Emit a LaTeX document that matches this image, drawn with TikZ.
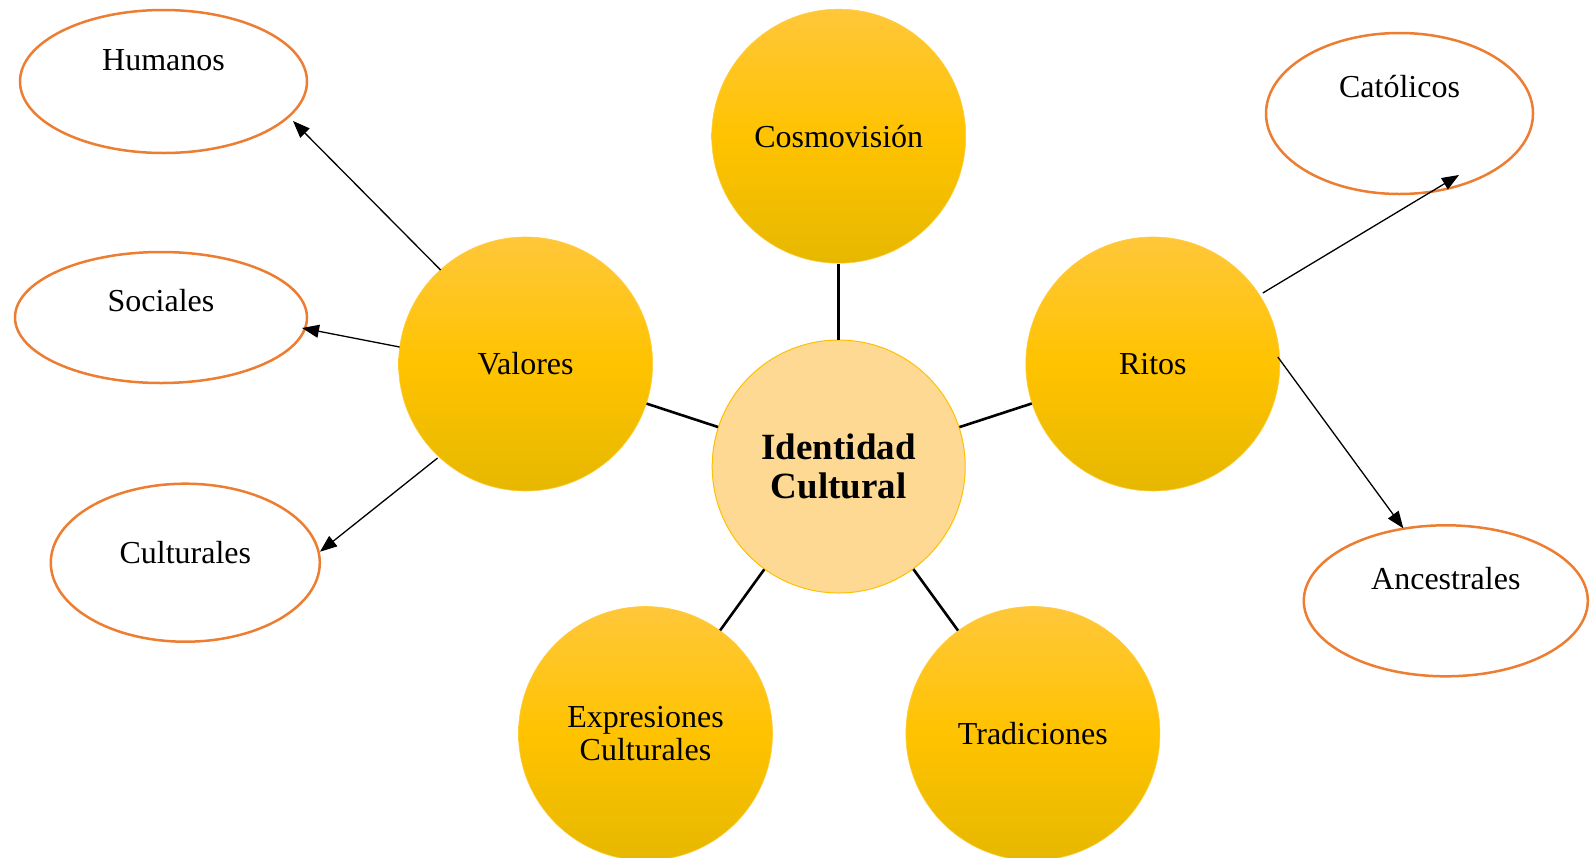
\documentclass[tikz,border=0pt]{standalone}
\usepackage{fontspec}
\setmainfont{Liberation Serif}
\usetikzlibrary{shapes.geometric,arrows.meta,calc}
\definecolor{goldtop}{RGB}{255,199,58}
\definecolor{goldmid}{RGB}{255,195,0}
\definecolor{goldbot}{RGB}{230,184,0}
\definecolor{goldline}{RGB}{255,204,60}
\definecolor{centerfill}{RGB}{254,217,148}
\definecolor{centerborder}{RGB}{255,192,0}
\definecolor{ellorange}{RGB}{237,125,49}
\begin{document}
\begin{tikzpicture}[x=1pt,y=-1pt,
  goldcircle/.style={circle, minimum size=254pt, inner sep=0pt,
    top color=goldtop, bottom color=goldbot, middle color=goldmid,
    draw=goldline, line width=0.6pt,
    font=\fontsize{32}{33.4}\selectfont, align=center},
  hubcircle/.style={circle, minimum size=253pt, inner sep=0pt,
    fill=centerfill, draw=centerborder, line width=1pt,
    font=\bfseries\fontsize{37}{38.3}\selectfont, align=center},
  oval/.style={ellipse, draw=ellorange, line width=2.5pt, inner sep=0pt},
  ovaltext/.style={font=\fontsize{32}{34}\selectfont, inner sep=0pt},
  link/.style={line width=2.6pt, black},
  arrowlink/.style={line width=1.3pt, black, -{Triangle[length=17pt,width=13pt]}}
]
\useasboundingbox (0,0) rectangle (1594,857);

% central hub and gold circles
\node[hubcircle]  (Hub)   at (838.7,466.5) {Identidad\\Cultural};
\node[goldcircle] (Cosmo) at (838.7,136.2) {Cosmovisión};
\node[goldcircle] (Valores) at (525.6,364) {Valores};
\node[goldcircle] (Ritos) at (1152.8,364) {Ritos};
\node[goldcircle] (Expr)  at (645.5,733.5) {Expresiones\\Culturales};
\node[goldcircle] (Trad)  at (1032.9,733.5) {Tradiciones};

% ellipses
\node[oval, minimum width=287pt, minimum height=143pt] (Humanos) at (163.5,81.5) {};
\node[ovaltext] (HumanosT) at ($(Humanos.center)+(0,-21)$) {Humanos};
\node[oval, minimum width=292pt, minimum height=131pt] (Sociales) at (161,317.5) {};
\node[ovaltext] (SocialesT) at ($(Sociales.center)+(0,-16.5)$) {Sociales};
\node[oval, minimum width=269pt, minimum height=158pt] (Culturales) at (185.3,562.7) {};
\node[ovaltext] (CulturalesT) at ($(Culturales.center)+(0,-10)$) {Culturales};
\node[oval, minimum width=267pt, minimum height=161pt] (Catolicos) at (1399.5,113.5) {};
\node[ovaltext] (CatolicosT) at ($(Catolicos.center)+(0,-27)$) {Católicos};
\node[oval, minimum width=284pt, minimum height=151pt] (Ancestrales) at (1445.8,600.8) {};
\node[ovaltext] (AncestralesT) at ($(Ancestrales.center)+(0,-22.5)$) {Ancestrales};

% links from hub
\draw[link] (Hub) -- (Cosmo);
\draw[link] (Hub) -- (Valores);
\draw[link] (Hub) -- (Ritos);
\draw[link] (Hub) -- (Expr);
\draw[link] (Hub) -- (Trad);

% arrows
\draw[arrowlink] ($(Valores.center)+(-85,-94)$) -- ($(Humanos.center)+(129.5,39.5)$);
\draw[arrowlink] ($(Valores.center)+(-126,-17)$) -- ($(Sociales.center)+(141,10.5)$);
\draw[arrowlink] ($(Valores.center)+(-88,94)$) -- ($(Culturales.center)+(134.7,-11)$);
\draw[arrowlink] ($(Ritos.center)+(110,-71)$) -- ($(Catolicos.center)+(59.5,61.5)$);
\draw[arrowlink] ($(Ritos.center)+(125,-7)$) -- ($(Ancestrales.center)+(-42.5,-72.5)$);
\end{tikzpicture}
\end{document}
